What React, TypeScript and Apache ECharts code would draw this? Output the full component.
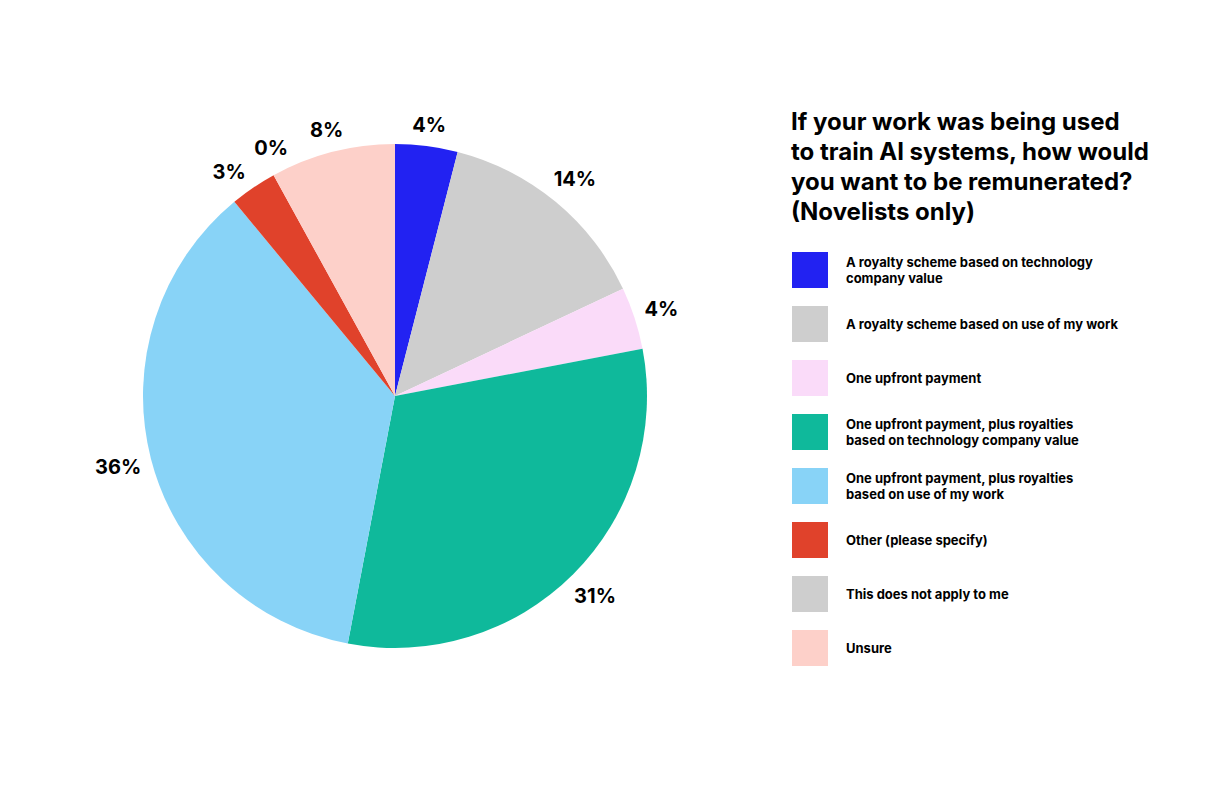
import React, { useEffect, useRef } from "react";
import * as echarts from "echarts";

const categories = [
  "A royalty scheme based on technology company value",
  "A royalty scheme based on use of my work",
  "One upfront payment",
  "One upfront payment, plus royalties based on technology company value",
  "One upfront payment, plus royalties based on use of my work",
  "Other (please specify)",
  "This does not apply to me",
  "Unsure",
];
const legendLabels = [
  "A royalty scheme based on technology\ncompany value",
  "A royalty scheme based on use of my work",
  "One upfront payment",
  "One upfront payment, plus royalties\nbased on technology company value",
  "One upfront payment, plus royalties\nbased on use of my work",
  "Other (please specify)",
  "This does not apply to me",
  "Unsure",
];
const values = [4, 14, 4, 31, 36, 3, 0, 8];
const colors = ["#2222F2", "#CECECE", "#FADBF9", "#0FB99B", "#88D3F7", "#E0422B", "#CECECE", "#FDD0C9"];
const titleText = "If your work was being used\nto train AI systems, how would\nyou want to be remunerated?\n(Novelists only)";

const CX = 395;
const CY = 396;
const R = 252;
const LABEL_BASE = 261;
const MIN_SEP = 10; // degrees between neighbouring labels

// mid-angles of slices (degrees clockwise from 12 o'clock), then spread apart when too close
function labelAngles(): number[] {
  const total = values.reduce((a, b) => a + b, 0);
  let acc = 0;
  const mids = values.map((v) => {
    const m = ((acc + v / 2) / total) * 360;
    acc += v;
    return m;
  });
  for (let iter = 0; iter < 20; iter++) {
    for (let i = 0; i < mids.length - 1; i++) {
      const gap = mids[i + 1] - mids[i];
      if (gap < MIN_SEP) {
        const push = (MIN_SEP - gap) / 2;
        mids[i] -= push;
        mids[i + 1] += push;
      }
    }
  }
  return mids;
}

export default function App() {
  const ref = useRef<HTMLDivElement>(null);
  useEffect(() => {
    const chart = echarts.init(ref.current!, null, { renderer: "svg" });
    const angles = labelAngles();
    const data = categories.map((name, i) => ({ name, value: values[i], itemStyle: { color: colors[i] } }));
    chart.setOption({
      animation: false,
      backgroundColor: "#ffffff",
      textStyle: { fontFamily: "Inter" },
      title: {
        text: titleText,
        left: 786,
        top: 101,
        textStyle: { fontSize: 24, lineHeight: 30, fontWeight: "bold", color: "#000", fontFamily: "Inter" },
      },
      legend: {
        orient: "vertical",
        left: 792,
        top: 252,
        padding: 0,
        itemWidth: 36,
        itemHeight: 36,
        itemGap: 18,
        icon: "rect",
        selectedMode: false,
        data: categories,
        formatter: (name: string) => legendLabels[categories.indexOf(name)],
        textStyle: { fontSize: 13, fontWeight: "bold", lineHeight: 16, color: "#000", fontFamily: "Inter", padding: [0, 0, 0, 13] },
      },
      series: [
        {
          type: "pie",
          center: [CX, CY],
          radius: [0, R],
          startAngle: 90,
          clockwise: true,
          silent: true,
          label: { show: false },
          labelLine: { show: false },
          data,
        },
        {
          type: "pie",
          center: [CX, CY],
          radius: [258, 298],
          startAngle: 90,
          clockwise: true,
          silent: true,
          minAngle: 1,
          itemStyle: { color: "rgba(0,0,0,0)" },
          label: {
            show: true,
            position: "inside",
            formatter: "{c}%",
            fontSize: 20,
            fontWeight: "bold",
            color: "#000",
            fontFamily: "Inter",
          },
          labelLine: { show: false },
          labelLayout: (p: any) => {
            const rc = p.labelRect;
            const a = (angles[p.dataIndex] * Math.PI) / 180;
            const ux = Math.sin(a);
            const uy = -Math.cos(a);
            const ext = (Math.abs(ux) * rc.width) / 2 + (Math.abs(uy) * rc.height) / 2;
            const r = LABEL_BASE + ext;
            return { x: CX + ux * r, y: CY + uy * r };
          },
          data: categories.map((name, i) => ({ name, value: values[i] })),
        },
      ],
    });
    return () => chart.dispose();
  }, []);
  return <div ref={ref} style={{ position: "fixed", left: 0, top: 0, width: 1226, height: 790 }} />;
}
